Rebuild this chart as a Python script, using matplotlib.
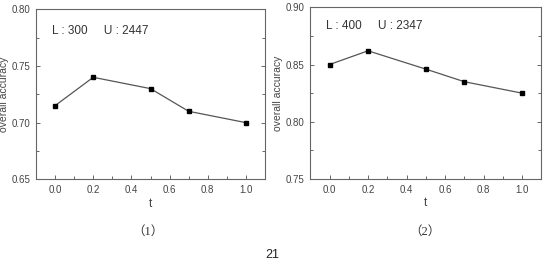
import matplotlib
matplotlib.use("Agg")
import matplotlib.pyplot as plt
from matplotlib.ticker import MultipleLocator

t_values = [0.0, 0.2, 0.5, 0.7, 1.0]
acc_left = [0.715, 0.740, 0.730, 0.710, 0.700]
acc_right = [0.850, 0.862, 0.846, 0.835, 0.825]
labels_left = "L : 300     U : 2447"
labels_right = "L : 400     U : 2347"
captions = ["（1）", "（2）"]
page_number = "21"

plt.rcParams['font.family'] = ['Liberation Sans', 'Noto Sans CJK SC', 'DejaVu Sans']

W, H = 544, 262
fig = plt.figure(figsize=(W / 100, H / 100), dpi=100)

edge = "#666666"
txt = "#444444"


def panel(rect, acc, ylim, note, note_xy):
    ax = fig.add_axes(rect)
    ax.plot(t_values, acc, color="#555555", lw=0.9, marker="s", ms=3.5,
            mfc="black", mec="black", zorder=3)
    ax.set_xlim(-0.1, 1.1)
    ax.set_ylim(*ylim)
    ax.xaxis.set_major_locator(MultipleLocator(0.2))
    ax.xaxis.set_minor_locator(MultipleLocator(0.1))
    ax.yaxis.set_major_locator(MultipleLocator(0.05))
    ax.yaxis.set_minor_locator(MultipleLocator(0.025))
    ax.xaxis.set_major_formatter(plt.FormatStrFormatter("%.1f"))
    ax.yaxis.set_major_formatter(plt.FormatStrFormatter("%.2f"))
    ax.tick_params(which="both", direction="in", right=True, top=False,
                   colors=edge, labelcolor=txt, labelsize=7)
    ax.tick_params(which="major", length=3, width=0.7, pad=4)
    ax.tick_params(which="minor", length=2, width=0.7)
    for s in ax.spines.values():
        s.set_color(edge)
        s.set_linewidth(0.8)
    ax.set_xlabel("t", fontsize=8.5, color=txt, labelpad=2)
    ax.set_ylabel("overall accuracy", fontsize=7.5, color=txt, labelpad=2)
    ax.text(note_xy[0], note_xy[1], note, transform=ax.transAxes,
            fontsize=8.5, color="#333333", va="center", ha="left")
    return ax


panel([36 / W, 1 - 179.3 / H, 229 / W, 170 / H], acc_left, (0.65, 0.80),
      labels_left, (0.07, 0.87))
panel([310.3 / W, 1 - 179 / H, 231 / W, 171.7 / H], acc_right, (0.75, 0.90),
      labels_right, (0.07, 0.89))

cap_font = ['Liberation Serif', 'Noto Sans CJK SC', 'DejaVu Sans']
fig.text(148 / W, 1 - 232 / H, captions[0], fontsize=9, ha="center", va="center",
         color="#333333", family=cap_font)
fig.text(425 / W, 1 - 232 / H, captions[1], fontsize=9, ha="center", va="center",
         color="#333333", family=cap_font)
fig.text(272 / W, 1 - 255 / H, page_number, fontsize=9, ha="center", va="center",
         color="#222222")

fig.savefig("out.png", dpi=100)
